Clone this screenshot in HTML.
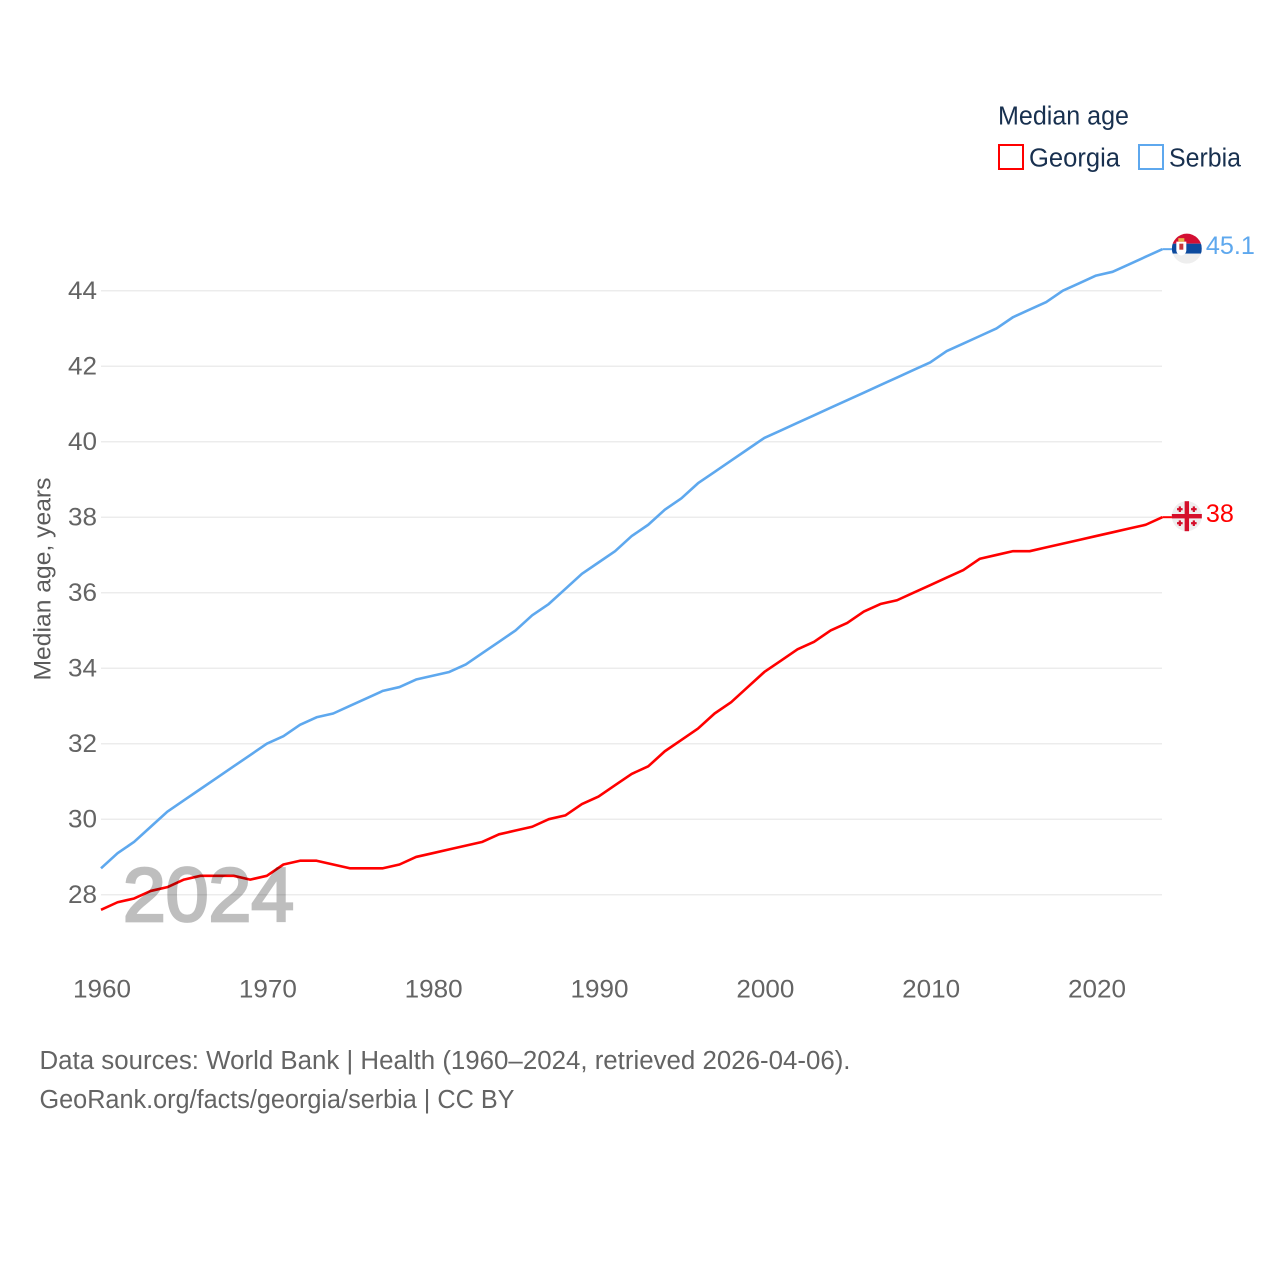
<!DOCTYPE html>
<html lang="en">
<head>
<meta charset="utf-8">
<title>Median age: Georgia and Serbia</title>
<style>
html,body{margin:0;padding:0;background:#fff;width:1280px;height:1280px;overflow:hidden}
svg{display:block;font-family:"Liberation Sans",sans-serif}
</style>
</head>
<body>
<svg id="chart" width="1280" height="1280" viewBox="0 0 1280 1280">
  <rect width="1280" height="1280" fill="#fff"/>
  <g id="grid"></g>
  <g id="yticks"></g>
  <g id="xticks"></g>
  <text transform="translate(50.5,579) rotate(-90)" text-anchor="middle" font-size="24.5" fill="#5b5b5b" textLength="203" lengthAdjust="spacingAndGlyphs">Median age, years</text>
  <g id="series"></g>
  <g opacity="0.25">
    <text x="123" y="921" font-size="76" font-weight="400" fill="#000" stroke="#000" stroke-width="2.8" textLength="171" lengthAdjust="spacingAndGlyphs">2024</text>
  </g>

  <g>
    <text x="998" y="124.5" font-size="25.5" fill="#18304f" textLength="131" lengthAdjust="spacingAndGlyphs">Median age</text>
    <g>
      <rect x="999" y="145" width="24" height="24" fill="#fff" stroke="#ff0000" stroke-width="2"/>
      <text x="1029" y="166.5" font-size="25.5" fill="#18304f" textLength="91" lengthAdjust="spacingAndGlyphs">Georgia</text>
    </g>
    <g>
      <rect x="1139" y="145" width="24" height="24" fill="#fff" stroke="#5ea8ee" stroke-width="2"/>
      <text x="1169" y="166.5" font-size="25.5" fill="#18304f" textLength="72" lengthAdjust="spacingAndGlyphs">Serbia</text>
    </g>
  </g>

  <g id="flags"></g>

  <g>
    <text x="39.5" y="1069" font-size="25.5" fill="#646464" textLength="811" lengthAdjust="spacingAndGlyphs">Data sources: World Bank | Health (1960–2024, retrieved 2026-04-06).</text>
    <text x="39.5" y="1108" font-size="25.5" fill="#646464" textLength="475" lengthAdjust="spacingAndGlyphs">GeoRank.org/facts/georgia/serbia | CC BY</text>
  </g>
</svg>
<script>
const years = [1960,1961,1962,1963,1964,1965,1966,1967,1968,1969,1970,1971,1972,1973,1974,1975,1976,1977,1978,1979,1980,1981,1982,1983,1984,1985,1986,1987,1988,1989,1990,1991,1992,1993,1994,1995,1996,1997,1998,1999,2000,2001,2002,2003,2004,2005,2006,2007,2008,2009,2010,2011,2012,2013,2014,2015,2016,2017,2018,2019,2020,2021,2022,2023,2024];
const georgia = [27.6,27.8,27.9,28.1,28.2,28.4,28.5,28.5,28.5,28.4,28.5,28.8,28.9,28.9,28.8,28.7,28.7,28.7,28.8,29.0,29.1,29.2,29.3,29.4,29.6,29.7,29.8,30.0,30.1,30.4,30.6,30.9,31.2,31.4,31.8,32.1,32.4,32.8,33.1,33.5,33.9,34.2,34.5,34.7,35.0,35.2,35.5,35.7,35.8,36.0,36.2,36.4,36.6,36.9,37.0,37.1,37.1,37.2,37.3,37.4,37.5,37.6,37.7,37.8,38.0];
const serbia = [28.7,29.1,29.4,29.8,30.2,30.5,30.8,31.1,31.4,31.7,32.0,32.2,32.5,32.7,32.8,33.0,33.2,33.4,33.5,33.7,33.8,33.9,34.1,34.4,34.7,35.0,35.4,35.7,36.1,36.5,36.8,37.1,37.5,37.8,38.2,38.5,38.9,39.2,39.5,39.8,40.1,40.3,40.5,40.7,40.9,41.1,41.3,41.5,41.7,41.9,42.1,42.4,42.6,42.8,43.0,43.3,43.5,43.7,44.0,44.2,44.4,44.5,44.7,44.9,45.1];
const yTickValues = [28,30,32,34,36,38,40,42,44];
const xTickValues = [1960,1970,1980,1990,2000,2010,2020];
const georgiaEndLabel = "38";
const serbiaEndLabel = "45.1";

const NS = "http://www.w3.org/2000/svg";
function xScale(year){ return 101 + (year - 1960) * (995 / 60); }
function yScale(v){ return 894.7 - (v - 28) * (604 / 16); }
function make(tag, attrs, parent){
  const el = document.createElementNS(NS, tag);
  for (const k in attrs) el.setAttribute(k, attrs[k]);
  parent.appendChild(el);
  return el;
}

const gridG = document.getElementById("grid");
const yG = document.getElementById("yticks");
yTickValues.forEach(function(v){
  const line = make("line", {x1:101, x2:1162, y1:yScale(v), y2:yScale(v), stroke:"#ececec", "stroke-width":1.5}, gridG);
  
  
  const t = make("text", {x:97, y:yScale(v)+8.3, "text-anchor":"end", "font-size":25, fill:"#646464", textLength:29, lengthAdjust:"spacingAndGlyphs"}, yG);
  
  
  t.textContent = v;
});

const xG = document.getElementById("xticks");
xTickValues.forEach(function(y){
  const t = make("text", {x:xScale(y)+1, y:997.6, "text-anchor":"middle", "font-size":25, fill:"#646464", textLength:58, lengthAdjust:"spacingAndGlyphs"}, xG);
  
  
  t.textContent = y;
});

function pathFor(values){
  return values.map(function(v,i){ return (i ? "L" : "M") + xScale(years[i]).toFixed(2) + " " + yScale(v).toFixed(2); }).join(" ");
}
const seriesG = document.getElementById("series");
const serbiaLine = make("path", {d:pathFor(serbia), fill:"none", stroke:"#5ea8ee", "stroke-width":2.6, "stroke-linejoin":"round"}, seriesG);


const georgiaLine = make("path", {d:pathFor(georgia), fill:"none", stroke:"#ff0000", "stroke-width":2.6, "stroke-linejoin":"round"}, seriesG);



const flagsG = document.getElementById("flags");
const lastX = xScale(years[years.length-1]);
const flagX = lastX + 24.5;
const sY = yScale(serbia[serbia.length-1]);
const gY = yScale(georgia[georgia.length-1]);

const sConn = make("line", {x1:lastX, x2:flagX-14, y1:sY, y2:sY, stroke:"#5ea8ee", "stroke-width":2}, flagsG);


const gConn = make("line", {x1:lastX, x2:flagX-14, y1:gY, y2:gY, stroke:"#ff0000", "stroke-width":2}, flagsG);



// Serbia flag: red, blue, white bands in a circle with coat of arms
const sFlag = make("g", {transform:"translate("+flagX+" "+(sY-0.5)+")"}, flagsG);


const clipDefs = make("defs", {}, flagsG);
const clip = make("clipPath", {id:"flag-circle"}, clipDefs);
make("circle", {cx:0, cy:0, r:15}, clip);
const sBands = make("g", {"clip-path":"url(#flag-circle)"}, sFlag);
make("rect", {x:-15, y:-16, width:30, height:11, fill:"#d30f33"}, sBands);
make("rect", {x:-15, y:-5, width:30, height:10, fill:"#0c4a9e"}, sBands);
make("rect", {x:-15, y:5, width:30, height:11, fill:"#eeeeee"}, sBands);
make("path", {d:"M-10.5 -7 L-0.5 -7 L-0.5 2 Q-1 6 -5.5 7 Q-10 6 -10.5 2 Z", fill:"#fff"}, sBands);
make("rect", {x:-8.5, y:-10.5, width:6, height:3.5, fill:"#e9b44a"}, sBands);
make("rect", {x:-7.5, y:-5, width:4, height:6, fill:"#c6363c"}, sBands);

// Georgia flag: cross and four small crosses
const gFlag = make("g", {transform:"translate("+flagX+" "+(gY-1)+")"}, flagsG);


make("circle", {cx:0, cy:0, r:15, fill:"#eeeeee"}, gFlag);
make("rect", {x:-15, y:-2.2, width:30, height:4.4, fill:"#d50f2b"}, gFlag);
make("rect", {x:-2.2, y:-15, width:4.4, height:30, fill:"#d50f2b"}, gFlag);
[[-7,-7],[7,-7],[-7,7],[7,7]].forEach(function(c){
  make("rect", {x:c[0]-2.8, y:c[1]-1.1, width:5.6, height:2.2, fill:"#d50f2b"}, gFlag);
  make("rect", {x:c[0]-1.1, y:c[1]-2.8, width:2.2, height:5.6, fill:"#d50f2b"}, gFlag);
});

const sLabel = make("text", {x:flagX+19, y:sY+4.8, "font-size":25, fill:"#5ea8ee", textLength:49, lengthAdjust:"spacingAndGlyphs"}, flagsG);


sLabel.textContent = serbiaEndLabel;
const gLabel = make("text", {x:flagX+19, y:gY+4.8, "font-size":25, fill:"#ff0000", textLength:28, lengthAdjust:"spacingAndGlyphs"}, flagsG);


gLabel.textContent = georgiaEndLabel;
</script>
</body>
</html>
